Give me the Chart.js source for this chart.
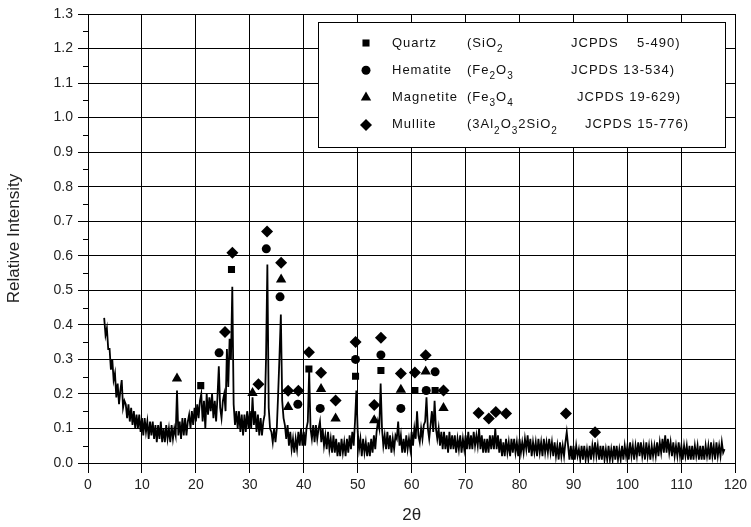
<!DOCTYPE html>
<html>
<head>
<meta charset="utf-8">
<title>XRD pattern</title>
<script src="https://cdn.jsdelivr.net/npm/chart.js@4.4.1/dist/chart.umd.min.js"></script>
<style>
  html, body { margin: 0; padding: 0; background: #fff; }
  #wrap { width: 751px; height: 527px; }
</style>
</head>
<body>
<div id="wrap"><canvas id="xrd-chart" width="751" height="527"></canvas></div>
<script>
// scan: first 2-theta angle and step (degrees)
const scanStart = 3
const scanStep = 0.25

// relative intensity, one value per step, 3 to 118 deg
const intensity = [
  0.42, 0.37, 0.39, 0.33, 0.33, 0.27, 0.30, 0.24, 0.26, 0.19, 0.23, 0.17, 0.21, 0.24, 0.16, 0.18, 0.17, 0.13, 0.17, 0.12,
  0.16, 0.11, 0.15, 0.10, 0.14, 0.10, 0.14, 0.09, 0.13, 0.08, 0.13, 0.09, 0.12, 0.07, 0.12, 0.08, 0.12, 0.07, 0.11, 0.06,
  0.11, 0.07, 0.12, 0.06, 0.10, 0.06, 0.11, 0.07, 0.10, 0.06, 0.11, 0.07, 0.10, 0.08, 0.21, 0.08, 0.12, 0.07, 0.13, 0.08,
  0.13, 0.08, 0.12, 0.14, 0.10, 0.15, 0.11, 0.16, 0.12, 0.17, 0.13, 0.18, 0.20, 0.12, 0.18, 0.10, 0.20, 0.14, 0.19, 0.15,
  0.20, 0.13, 0.18, 0.12, 0.19, 0.28, 0.16, 0.13, 0.18, 0.20, 0.15, 0.33, 0.22, 0.36, 0.30, 0.51, 0.17, 0.11, 0.15, 0.10,
  0.15, 0.09, 0.14, 0.08, 0.14, 0.09, 0.15, 0.10, 0.15, 0.10, 0.19, 0.11, 0.15, 0.09, 0.14, 0.08, 0.13, 0.08, 0.12, 0.14,
  0.30, 0.575, 0.16, 0.10, 0.09, 0.06, 0.10, 0.06, 0.10, 0.20, 0.31, 0.43, 0.18, 0.13, 0.11, 0.07, 0.11, 0.05, 0.09, 0.04,
  0.07, 0.03, 0.07, 0.04, 0.09, 0.05, 0.10, 0.05, 0.09, 0.05, 0.10, 0.12, 0.27, 0.10, 0.07, 0.11, 0.06, 0.11, 0.07, 0.10,
  0.12, 0.06, 0.10, 0.05, 0.08, 0.04, 0.09, 0.04, 0.07, 0.03, 0.08, 0.03, 0.07, 0.02, 0.06, 0.02, 0.07, 0.03, 0.06, 0.02,
  0.07, 0.03, 0.08, 0.04, 0.09, 0.05, 0.12, 0.21, 0.09, 0.04, 0.07, 0.02, 0.07, 0.03, 0.06, 0.02, 0.06, 0.02, 0.07, 0.03,
  0.08, 0.04, 0.09, 0.12, 0.10, 0.23, 0.10, 0.05, 0.08, 0.04, 0.09, 0.04, 0.08, 0.03, 0.07, 0.04, 0.08, 0.07, 0.12, 0.05,
  0.08, 0.03, 0.07, 0.03, 0.08, 0.04, 0.07, 0.04, 0.09, 0.05, 0.10, 0.07, 0.15, 0.08, 0.06, 0.10, 0.07, 0.11, 0.12, 0.19,
  0.10, 0.07, 0.11, 0.15, 0.09, 0.18, 0.10, 0.07, 0.10, 0.05, 0.09, 0.04, 0.09, 0.04, 0.08, 0.03, 0.09, 0.04, 0.08, 0.04,
  0.08, 0.03, 0.07, 0.04, 0.08, 0.03, 0.07, 0.04, 0.08, 0.04, 0.09, 0.04, 0.08, 0.04, 0.09, 0.05, 0.08, 0.05, 0.10, 0.04,
  0.08, 0.03, 0.07, 0.03, 0.07, 0.03, 0.08, 0.04, 0.08, 0.04, 0.10, 0.04, 0.08, 0.03, 0.07, 0.02, 0.06, 0.02, 0.07, 0.03,
  0.06, 0.02, 0.07, 0.03, 0.07, 0.03, 0.06, 0.02, 0.07, 0.03, 0.06, 0.03, 0.07, 0.04, 0.08, 0.03, 0.07, 0.02, 0.06, 0.03,
  0.06, 0.02, 0.07, 0.03, 0.06, 0.02, 0.07, 0.03, 0.06, 0.03, 0.07, 0.03, 0.06, 0.02, 0.06, 0.02, 0.05, 0.01, 0.06, 0.02,
  0.05, 0.02, 0.06, 0.09, 0.05, 0.01, 0.05, 0.01, 0.05, 0.01, 0.05, 0.02, 0.04, 0.01, 0.05, 0.01, 0.05, 0.01, 0.04, 0.01,
  0.05, 0.01, 0.05, 0.02, 0.06, 0.02, 0.05, 0.01, 0.05, 0.01, 0.05, 0.01, 0.04, 0.01, 0.05, 0.01, 0.04, 0.01, 0.05, 0.01,
  0.05, 0.01, 0.04, 0.01, 0.05, 0.01, 0.05, 0.02, 0.05, 0.01, 0.06, 0.02, 0.05, 0.01, 0.05, 0.02, 0.06, 0.02, 0.06, 0.02,
  0.05, 0.01, 0.06, 0.02, 0.05, 0.01, 0.05, 0.02, 0.05, 0.02, 0.06, 0.02, 0.06, 0.03, 0.07, 0.03, 0.08, 0.03, 0.07, 0.03,
  0.06, 0.02, 0.06, 0.02, 0.05, 0.02, 0.06, 0.02, 0.05, 0.01, 0.05, 0.02, 0.05, 0.01, 0.05, 0.01, 0.05, 0.01, 0.05, 0.02,
  0.05, 0.01, 0.05, 0.01, 0.05, 0.01, 0.05, 0.02, 0.05, 0.01, 0.06, 0.02, 0.05, 0.01, 0.06, 0.02, 0.05, 0.02, 0.06, 0.03,
  0.04
]

// phase markers: 2-theta position and marker height
const quartzX = [20.9, 26.6, 40.95, 49.6, 54.3, 60.6, 64.35]
const quartzY = [0.224, 0.56, 0.272, 0.251, 0.268, 0.21, 0.21]

const hematiteX = [24.3, 33.05, 35.6, 38.9, 43.05, 49.6, 54.3, 58.0, 62.7, 64.35]
const hematiteY = [0.319, 0.62, 0.481, 0.17, 0.158, 0.30, 0.313, 0.158, 0.21, 0.264]

const magnetiteX = [16.5, 30.5, 35.8, 37.1, 43.2, 45.9, 53.06, 58.0, 62.6, 65.9]
const magnetiteY = [0.245, 0.203, 0.531, 0.162, 0.214, 0.129, 0.124, 0.212, 0.265, 0.159]

const mulliteX = [25.4, 26.76, 31.6, 33.2, 35.8, 37.1, 39.0, 40.96, 43.2, 45.9, 49.6, 53.06,
  54.3, 58.0, 60.6, 62.6, 65.9, 72.4, 74.3, 75.6, 77.5, 88.6, 94.0]
const mulliteY = [0.379, 0.609, 0.228, 0.67, 0.58, 0.209, 0.209, 0.321, 0.261, 0.181, 0.35, 0.168,
  0.363, 0.259, 0.262, 0.312, 0.21, 0.145, 0.129, 0.148, 0.143, 0.143, 0.089]

// axis ranges and ticks
const xMin = 0, xMax = 120, xStep = 10
const yMin = 0, yMax = 1.3, yStep = 0.1

// legend rows: marker, name, formula pieces [text, subscript?], card
const legendRows = [
  { style: 'rect', radius: 5, name: 'Quartz', formula: [['(SiO', false], ['2', true]], card: 'JCPDS    5-490)', cardX: 253 },
  { style: 'circle', radius: 4.5, name: 'Hematite', formula: [['(Fe', false], ['2', true], ['O', false], ['3', true]], card: 'JCPDS 13-534)', cardX: 253 },
  { style: 'triangle', radius: 6, name: 'Magnetite', formula: [['(Fe', false], ['3', true], ['O', false], ['4', true]], card: 'JCPDS 19-629)', cardX: 259 },
  { style: 'rectRot', radius: 6, name: 'Mullite', formula: [['(3Al', false], ['2', true], ['O', false], ['3', true], ['2SiO', false], ['2', true]], card: 'JCPDS 15-776)', cardX: 267 }
]

const pts = (xs, ys) => xs.map((x, i) => ({ x: x, y: ys[i] }))
const pattern = intensity.map((v, i) => ({ x: scanStart + i * scanStep, y: v }))

const fontFamily = 'Arial, "Liberation Sans", sans-serif'

// short ticks halfway between the y labels
const minorTicks = {
  id: 'minorTicks',
  afterDraw(chart) {
    const ctx = chart.ctx
    const y = chart.scales.y
    const left = chart.chartArea.left
    ctx.save()
    ctx.strokeStyle = '#000'
    ctx.lineWidth = 1
    for (let v = yMin + yStep / 2; v < yMax; v += yStep) {
      const py = Math.round(y.getPixelForValue(v)) + 0.5
      ctx.beginPath()
      ctx.moveTo(left - 5, py)
      ctx.lineTo(left, py)
      ctx.stroke()
    }
    ctx.restore()
  }
}

// boxed legend with chemical formulas
const phaseLegend = {
  id: 'phaseLegend',
  afterDraw(chart) {
    const ctx = chart.ctx
    const area = chart.chartArea
    const bx = area.left + 230, by = area.top + 8, bw = 407, bh = 125
    ctx.save()
    ctx.fillStyle = '#fff'
    ctx.fillRect(bx, by, bw, bh)
    ctx.strokeStyle = '#000'
    ctx.lineWidth = 1
    ctx.strokeRect(bx + 0.5, by + 0.5, bw, bh)
    ctx.letterSpacing = '1px'
    legendRows.forEach((row, i) => {
      const cy = by + 21 + i * 27.3
      ctx.fillStyle = '#000'
      Chart.helpers.drawPoint(ctx, { pointStyle: row.style, radius: row.radius, rotation: 0, borderWidth: 0 }, bx + 48, cy)
      ctx.fillStyle = '#111'
      ctx.textBaseline = 'middle'
      ctx.textAlign = 'left'
      ctx.font = '13px ' + fontFamily
      ctx.fillText(row.name, bx + 74, cy)
      let tx = bx + 149
      row.formula.forEach(([t, sub]) => {
        ctx.font = (sub ? '10px ' : '13px ') + fontFamily
        ctx.fillText(t, tx, sub ? cy + 6 : cy)
        tx += ctx.measureText(t).width
      })
      ctx.font = '13px ' + fontFamily
      ctx.fillText(row.card, bx + row.cardX, cy)
    })
    ctx.restore()
  }
}

const chartCanvas = document.querySelector('#xrd-chart')

const xrdChart = new Chart(chartCanvas, {
  type: 'scatter',
  data: {
    datasets: [
      { label: 'Quartz', data: pts(quartzX, quartzY), pointStyle: 'rect', pointRadius: 5, backgroundColor: '#000', borderWidth: 0, order: 1 },
      { label: 'Hematite', data: pts(hematiteX, hematiteY), pointStyle: 'circle', pointRadius: 4.5, backgroundColor: '#000', borderWidth: 0, order: 1 },
      { label: 'Magnetite', data: pts(magnetiteX, magnetiteY), pointStyle: 'triangle', pointRadius: 6, backgroundColor: '#000', borderWidth: 0, order: 1 },
      { label: 'Mullite', data: pts(mulliteX, mulliteY), pointStyle: 'rectRot', pointRadius: 6, backgroundColor: '#000', borderWidth: 0, order: 1 },
      { label: 'pattern', data: pattern, showLine: true, pointRadius: 0, borderColor: '#000', borderWidth: 1.8, order: 5 }
    ]
  },
  options: {
    responsive: false,
    animation: false,
    devicePixelRatio: 1,
    layout: { padding: { top: 14, right: 15, left: 0, bottom: 0 } },
    plugins: {
      legend: { display: false },
      tooltip: { enabled: false }
    },
    scales: {
      x: {
        type: 'linear',
        min: xMin,
        max: xMax,
        afterFit: (scale) => { scale.height = 64 },
        ticks: { stepSize: xStep, color: '#222', padding: 4, font: { family: fontFamily, size: 14 } },
        grid: { color: '#000', tickColor: '#000', tickLength: 10, lineWidth: 1 },
        border: { color: '#000', width: 1 },
        title: { display: true, text: '2θ', color: '#222', padding: { top: 0, bottom: 1 }, font: { family: fontFamily, size: 17 } }
      },
      y: {
        min: yMin,
        max: yMax,
        afterFit: (scale) => { scale.width = 88 },
        ticks: {
          stepSize: yStep,
          color: '#222',
          padding: 5,
          font: { family: fontFamily, size: 14 },
          callback: (value) => value.toFixed(1)
        },
        grid: { color: '#000', tickColor: '#000', tickLength: 10, lineWidth: 1 },
        border: { color: '#000', width: 1 },
        title: { display: true, text: 'Relative Intensity', color: '#222', padding: { top: 4, bottom: 0 }, font: { family: fontFamily, size: 17 } }
      }
    }
  },
  plugins: [minorTicks, phaseLegend]
})
</script>
</body>
</html>
